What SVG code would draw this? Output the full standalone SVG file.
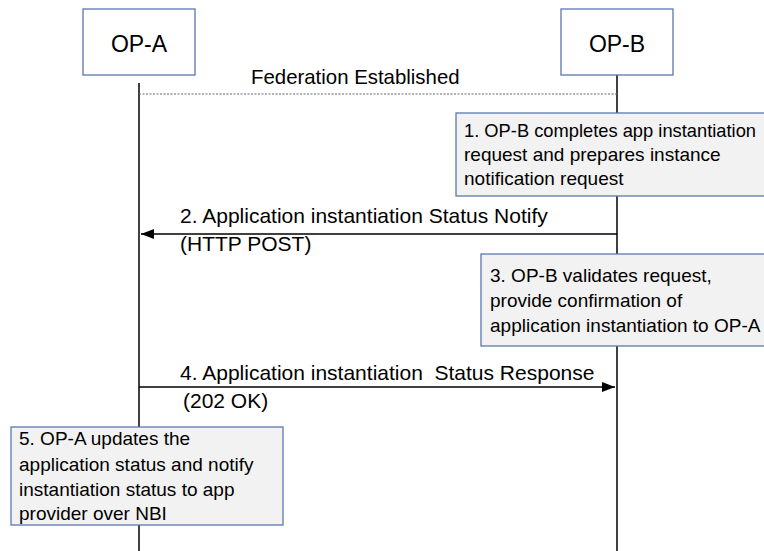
<svg xmlns="http://www.w3.org/2000/svg" width="764" height="551" viewBox="0 0 764 551">
<defs>
<style>
text{font-family:"Liberation Sans",Arial,sans-serif;fill:#000}
.head{fill:#fff;stroke:#5b79b0;stroke-width:1.3}
.note{fill:#f2f2f2;stroke:#5b79b0;stroke-width:1.3}
.life{stroke:#000;stroke-width:1.5}
.msg{stroke:#000;stroke-width:1.5;fill:none}
.t{font-size:19px}
.lbl{font-size:21px;white-space:pre}
</style>
<marker id="ah" markerWidth="13" markerHeight="10" refX="13" refY="5" orient="auto" markerUnits="userSpaceOnUse">
<path d="M0,0 L13,5 L0,10 Z" fill="#000"/>
</marker>
</defs>
<g id="connectors">
<line class="life" x1="139" y1="83" x2="139" y2="551"/>
<line class="life" x1="617" y1="75" x2="617" y2="551"/>
<line x1="139" y1="94" x2="617" y2="94" stroke="#666" stroke-width="1" stroke-dasharray="2,1.5"/>
<line class="msg" x1="617" y1="234" x2="141" y2="234" marker-end="url(#ah)"/>
<line class="msg" x1="139" y1="387" x2="615" y2="387" marker-end="url(#ah)"/>
</g>
<g id="opa">
<rect class="head" x="83" y="9" width="112" height="66"/>
<text x="139" y="52" font-size="23" text-anchor="middle">OP-A</text>
</g>
<g id="opb">
<rect class="head" x="561" y="9" width="112" height="66"/>
<text x="617" y="52" font-size="23" text-anchor="middle">OP-B</text>
</g>
<g id="fed">
<text x="251" y="84" font-size="20.4">Federation Established</text>
</g>
<g id="step1">
<rect class="note" x="456" y="113" width="330" height="83"/>
<text class="t" x="464" y="137" font-size="18" textLength="292" lengthAdjust="spacingAndGlyphs">1. OP-B completes app instantiation</text>
<text class="t" x="464" y="161">request and prepares instance</text>
<text class="t" x="464" y="185">notification request</text>
</g>
<g id="step2">
<text class="lbl" x="180" y="223">2. Application instantiation Status Notify</text>
<text class="lbl" x="180" y="251">(HTTP POST)</text>
</g>
<g id="step3">
<rect class="note" x="481" y="254" width="310" height="92"/>
<text class="t" x="490" y="282">3. OP-B validates request,</text>
<text class="t" x="490" y="307">provide confirmation of</text>
<text class="t" x="490" y="332">application instantiation to OP-A</text>
</g>
<g id="step4">
<text class="lbl" x="180" y="380">4. Application instantiation  Status Response</text>
<text class="lbl" x="183" y="408">(202 OK)</text>
</g>
<g id="step5">
<rect class="note" x="11" y="427" width="272" height="98"/>
<text class="t" x="19" y="445">5. OP-A updates the</text>
<text class="t" x="19" y="471">application status and notify</text>
<text class="t" x="19" y="496">instantiation status to app</text>
<text class="t" x="19" y="520">provider over NBI</text>
</g>
</svg>
